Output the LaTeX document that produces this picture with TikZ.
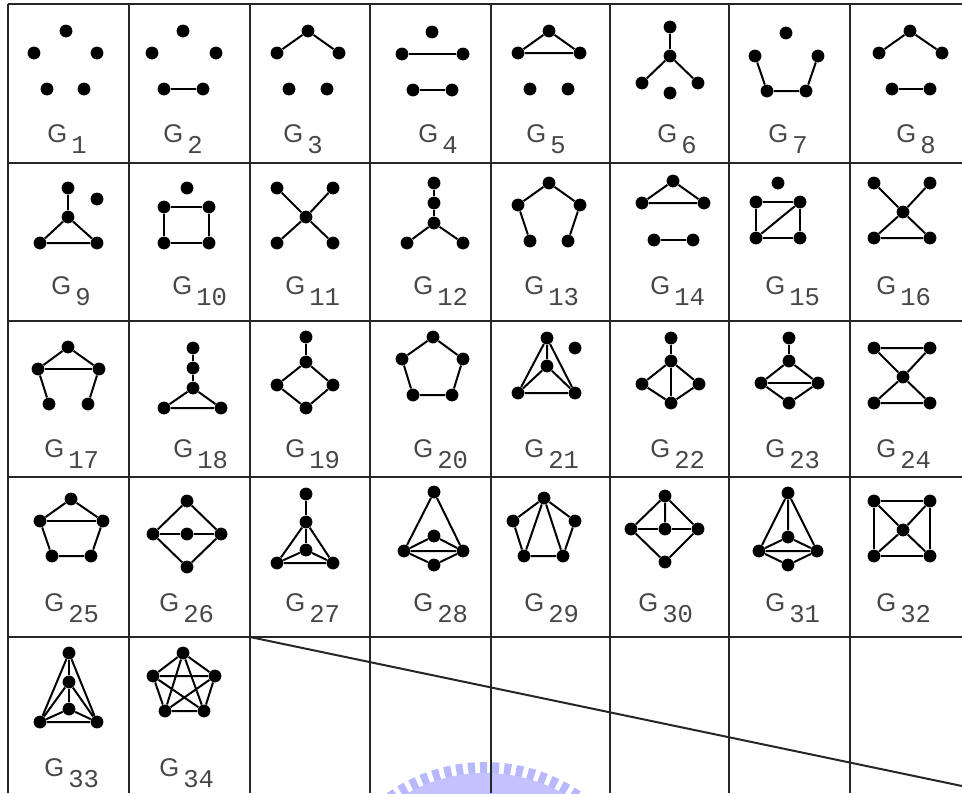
\documentclass[tikz,border=0pt]{standalone}
\usepackage{fontspec}
\usepackage{tikz}
\usetikzlibrary{calc}

\newfontfamily\glabelfont{Liberation Sans}
\newfontfamily\gindexfont{Liberation Mono}
\newcommand{\gname}[1]{{\glabelfont\fontsize{12.8}{14}\selectfont G}\hspace{2pt}\raisebox{-5.5pt}{\gindexfont\fontsize{12.8}{14}\selectfont #1}}

\tikzset{
  vtx/.style={circle, fill=black, inner sep=0pt, minimum size=6.4pt},
  gedge/.style={line width=1pt},
  cellline/.style={line width=1pt, black!85},
  glabel/.style={anchor=base west, inner sep=0pt, text=black!72}
}

\begin{document}
\begin{tikzpicture}[x=0.5pt, y=-0.5pt]
    \useasboundingbox (0,0) rectangle (962,793);

    % Watermark behind the table
    \begin{scope}
        \clip (0,0) rectangle (962,793);
        \draw[blue!28, line width=6pt, dash pattern=on 3.5pt off 2.5pt] (485,932) circle (164);
        \draw[blue!24, line width=14pt] (485,932) circle (145);
    \end{scope}

    % Table lines
    \foreach \y in {4,163,321,477,637} {
        \draw[cellline] (8,\y) -- (962,\y);
    }
    \foreach \x in {8,129,250,370,491,610,729,850} {
        \draw[cellline] (\x,4) -- (\x,793);
    }
    \coordinate (dstart) at (250,637);
    \coordinate (dend) at (962,786);
    \draw[cellline] (dstart) -- (dend);

    % Row 1
    % G_1
    \begin{scope}[shift={(8,4)}]
        \node[vtx] (a) at (58,27) {};
        \node[vtx] (b) at (26,49) {};
        \node[vtx] (c) at (89,49) {};
        \node[vtx] (d) at (39,85) {};
        \node[vtx] (e) at (76,85) {};
        \node[glabel] (lab1) at (39,138) {\gname{1}};
    \end{scope}
    % G_2
    \begin{scope}[shift={(129,4)}]
        \node[vtx] (a) at (54,27) {};
        \node[vtx] (b) at (23,49) {};
        \node[vtx] (c) at (87,49) {};
        \node[vtx] (d) at (35,85) {};
        \node[vtx] (e) at (74,85) {};
        \draw[gedge] (d) -- (e);
        \node[glabel] (lab2) at (34,138) {\gname{2}};
    \end{scope}
    % G_3
    \begin{scope}[shift={(250,4)}]
        \node[vtx] (a) at (58,27) {};
        \node[vtx] (b) at (27,49) {};
        \node[vtx] (c) at (89,49) {};
        \node[vtx] (d) at (39,85) {};
        \node[vtx] (e) at (77,85) {};
        \draw[gedge] (b) -- (a) -- (c);
        \node[glabel] (lab3) at (33,138) {\gname{3}};
    \end{scope}
    % G_4
    \begin{scope}[shift={(370,4)}]
        \node[vtx] (a) at (62,28) {};
        \node[vtx] (b) at (32,50) {};
        \node[vtx] (c) at (93,50) {};
        \node[vtx] (d) at (43,86) {};
        \node[vtx] (e) at (82,86) {};
        \draw[gedge] (b) -- (c);
        \draw[gedge] (d) -- (e);
        \node[glabel] (lab4) at (48,138) {\gname{4}};
    \end{scope}
    % G_5
    \begin{scope}[shift={(491,4)}]
        \node[vtx] (a) at (58,27) {};
        \node[vtx] (b) at (27,49) {};
        \node[vtx] (c) at (89,49) {};
        \node[vtx] (d) at (39,85) {};
        \node[vtx] (e) at (77,85) {};
        \draw[gedge] (a) -- (b) -- (c) -- (a);
        \node[glabel] (lab5) at (35,138) {\gname{5}};
    \end{scope}
    % G_6
    \begin{scope}[shift={(610,4)}]
        \node[vtx] (a) at (60,23) {};
        \node[vtx] (b) at (60,52) {};
        \node[vtx] (c) at (32,79) {};
        \node[vtx] (d) at (88,79) {};
        \node[vtx] (e) at (60,89) {};
        \draw[gedge] (b) -- (a);
        \draw[gedge] (c) -- (b) -- (d);
        \node[glabel] (lab6) at (47,138) {\gname{6}};
    \end{scope}
    % G_7
    \begin{scope}[shift={(729,4)}]
        \node[vtx] (a) at (57,29) {};
        \node[vtx] (b) at (26,52) {};
        \node[vtx] (c) at (89,52) {};
        \node[vtx] (d) at (38,87) {};
        \node[vtx] (e) at (77,87) {};
        \draw[gedge] (b) -- (d) -- (e) -- (c);
        \node[glabel] (lab7) at (39,138) {\gname{7}};
    \end{scope}
    % G_8
    \begin{scope}[shift={(850,4)}]
        \node[vtx] (a) at (60,27) {};
        \node[vtx] (b) at (29,49) {};
        \node[vtx] (c) at (92,49) {};
        \node[vtx] (d) at (42,85) {};
        \node[vtx] (e) at (80,85) {};
        \draw[gedge] (b) -- (a) -- (c);
        \draw[gedge] (d) -- (e);
        \node[glabel] (lab8) at (46,138) {\gname{8}};
    \end{scope}

    % Row 2
    % G_9
    \begin{scope}[shift={(8,163)}]
        \node[vtx] (a) at (60,25) {};
        \node[vtx] (b) at (89,36) {};
        \node[vtx] (c) at (60,54) {};
        \node[vtx] (d) at (32,80) {};
        \node[vtx] (e) at (89,80) {};
        \draw[gedge] (a) -- (c);
        \draw[gedge] (c) -- (d) -- (e) -- (c);
        \node[glabel] (lab9) at (43,131) {\gname{9}};
    \end{scope}
    % G_10
    \begin{scope}[shift={(129,163)}]
        \node[vtx] (a) at (58,25) {};
        \node[vtx] (b) at (35,44) {};
        \node[vtx] (c) at (80,44) {};
        \node[vtx] (d) at (35,80) {};
        \node[vtx] (e) at (80,80) {};
        \draw[gedge] (b) -- (c) -- (e) -- (d) -- (b);
        \node[glabel] (lab10) at (43,131) {\gname{10}};
    \end{scope}
    % G_11
    \begin{scope}[shift={(250,163)}]
        \node[vtx] (a) at (27,25) {};
        \node[vtx] (b) at (83,25) {};
        \node[vtx] (c) at (56,54) {};
        \node[vtx] (d) at (27,80) {};
        \node[vtx] (e) at (83,80) {};
        \draw[gedge] (a) -- (c) -- (e);
        \draw[gedge] (b) -- (c) -- (d);
        \node[glabel] (lab11) at (35,131) {\gname{11}};
    \end{scope}
    % G_12
    \begin{scope}[shift={(370,163)}]
        \node[vtx] (a) at (64,20) {};
        \node[vtx] (b) at (64,40) {};
        \node[vtx] (c) at (64,60) {};
        \node[vtx] (d) at (37,80) {};
        \node[vtx] (e) at (93,80) {};
        \draw[gedge] (a) -- (b) -- (c);
        \draw[gedge] (d) -- (c) -- (e);
        \node[glabel] (lab12) at (43,131) {\gname{12}};
    \end{scope}
    % G_13
    \begin{scope}[shift={(491,163)}]
        \node[vtx] (a) at (58,20) {};
        \node[vtx] (b) at (27,42) {};
        \node[vtx] (c) at (89,42) {};
        \node[vtx] (d) at (39,78) {};
        \node[vtx] (e) at (77,78) {};
        \draw[gedge] (d) -- (b) -- (a) -- (c) -- (e);
        \node[glabel] (lab13) at (33,131) {\gname{13}};
    \end{scope}
    % G_14
    \begin{scope}[shift={(610,163)}]
        \node[vtx] (a) at (63,18) {};
        \node[vtx] (b) at (32,40) {};
        \node[vtx] (c) at (94,40) {};
        \node[vtx] (d) at (44,77) {};
        \node[vtx] (e) at (83,77) {};
        \draw[gedge] (a) -- (b) -- (c) -- (a);
        \draw[gedge] (d) -- (e);
        \node[glabel] (lab14) at (40,131) {\gname{14}};
    \end{scope}
    % G_15
    \begin{scope}[shift={(729,163)}]
        \node[vtx] (a) at (49,20) {};
        \node[vtx] (b) at (27,39) {};
        \node[vtx] (c) at (71,39) {};
        \node[vtx] (d) at (27,75) {};
        \node[vtx] (e) at (71,75) {};
        \draw[gedge] (b) -- (c) -- (e) -- (d) -- (b);
        \draw[gedge] (d) -- (c);
        \node[glabel] (lab15) at (36,131) {\gname{15}};
    \end{scope}
    % G_16
    \begin{scope}[shift={(850,163)}]
        \node[vtx] (a) at (24,20) {};
        \node[vtx] (b) at (80,20) {};
        \node[vtx] (c) at (53,49) {};
        \node[vtx] (d) at (24,75) {};
        \node[vtx] (e) at (80,75) {};
        \draw[gedge] (a) -- (c) -- (e) -- (d) -- (c) -- (b);
        \node[glabel] (lab16) at (26,131) {\gname{16}};
    \end{scope}

    % Row 3
    % G_17
    \begin{scope}[shift={(8,321)}]
        \node[vtx] (a) at (60,26) {};
        \node[vtx] (b) at (30,48) {};
        \node[vtx] (c) at (91,48) {};
        \node[vtx] (d) at (41,83) {};
        \node[vtx] (e) at (80,83) {};
        \draw[gedge] (d) -- (b) -- (a) -- (c) -- (e);
        \draw[gedge] (b) -- (c);
        \node[glabel] (lab17) at (36,136) {\gname{17}};
    \end{scope}
    % G_18
    \begin{scope}[shift={(129,321)}]
        \node[vtx] (a) at (64,27) {};
        \node[vtx] (b) at (64,47) {};
        \node[vtx] (c) at (64,67) {};
        \node[vtx] (d) at (35,87) {};
        \node[vtx] (e) at (92,87) {};
        \draw[gedge] (a) -- (b) -- (c);
        \draw[gedge] (c) -- (d) -- (e) -- (c);
        \node[glabel] (lab18) at (44,136) {\gname{18}};
    \end{scope}
    % G_19
    \begin{scope}[shift={(250,321)}]
        \node[vtx] (a) at (56,16) {};
        \node[vtx] (b) at (56,41) {};
        \node[vtx] (c) at (27,64) {};
        \node[vtx] (d) at (83,64) {};
        \node[vtx] (e) at (56,87) {};
        \draw[gedge] (a) -- (b);
        \draw[gedge] (b) -- (c) -- (e) -- (d) -- (b);
        \node[glabel] (lab19) at (35,136) {\gname{19}};
    \end{scope}
    % G_20
    \begin{scope}[shift={(370,321)}]
        \node[vtx] (a) at (63,16) {};
        \node[vtx] (b) at (32,38) {};
        \node[vtx] (c) at (93,38) {};
        \node[vtx] (d) at (43,74) {};
        \node[vtx] (e) at (82,74) {};
        \draw[gedge] (a) -- (b) -- (d) -- (e) -- (c) -- (a);
        \node[glabel] (lab20) at (43,136) {\gname{20}};
    \end{scope}
    % G_21
    \begin{scope}[shift={(491,321)}]
        \node[vtx] (a) at (56,17) {};
        \node[vtx] (b) at (56,45) {};
        \node[vtx] (c) at (84,27) {};
        \node[vtx] (d) at (27,72) {};
        \node[vtx] (e) at (84,72) {};
        \draw[gedge] (a) -- (d) -- (e) -- (a) -- (b);
        \draw[gedge] (d) -- (b) -- (e);
        \node[glabel] (lab21) at (33,136) {\gname{21}};
    \end{scope}
    % G_22
    \begin{scope}[shift={(610,321)}]
        \node[vtx] (a) at (61,17) {};
        \node[vtx] (b) at (61,40) {};
        \node[vtx] (c) at (32,63) {};
        \node[vtx] (d) at (89,63) {};
        \node[vtx] (e) at (61,82) {};
        \draw[gedge] (a) -- (b) -- (e);
        \draw[gedge] (b) -- (c) -- (e) -- (d) -- (b);
        \node[glabel] (lab22) at (40,136) {\gname{22}};
    \end{scope}
    % G_23
    \begin{scope}[shift={(729,321)}]
        \node[vtx] (a) at (60,17) {};
        \node[vtx] (b) at (60,40) {};
        \node[vtx] (c) at (32,62) {};
        \node[vtx] (d) at (89,62) {};
        \node[vtx] (e) at (60,82) {};
        \draw[gedge] (a) -- (b);
        \draw[gedge] (b) -- (c) -- (e) -- (d) -- (b);
        \draw[gedge] (c) -- (d);
        \node[glabel] (lab23) at (36,136) {\gname{23}};
    \end{scope}
    % G_24
    \begin{scope}[shift={(850,321)}]
        \node[vtx] (a) at (24,27) {};
        \node[vtx] (b) at (80,27) {};
        \node[vtx] (c) at (53,56) {};
        \node[vtx] (d) at (24,82) {};
        \node[vtx] (e) at (80,82) {};
        \draw[gedge] (c) -- (a) -- (b) -- (c);
        \draw[gedge] (c) -- (d) -- (e) -- (c);
        \node[glabel] (lab24) at (26,136) {\gname{24}};
    \end{scope}

    % Row 4
    % G_25
    \begin{scope}[shift={(8,477)}]
        \node[vtx] (a) at (63,22) {};
        \node[vtx] (b) at (32,44) {};
        \node[vtx] (c) at (95,44) {};
        \node[vtx] (d) at (44,79) {};
        \node[vtx] (e) at (83,79) {};
        \draw[gedge] (a) -- (b) -- (d) -- (e) -- (c) -- (a);
        \draw[gedge] (b) -- (c);
        \node[glabel] (lab25) at (36,134) {\gname{25}};
    \end{scope}
    % G_26
    \begin{scope}[shift={(129,477)}]
        \node[vtx] (a) at (58,24) {};
        \node[vtx] (b) at (24,57) {};
        \node[vtx] (c) at (58,57) {};
        \node[vtx] (d) at (92,57) {};
        \node[vtx] (e) at (58,90) {};
        \draw[gedge] (a) -- (b) -- (e) -- (d) -- (a);
        \draw[gedge] (b) -- (c) -- (d);
        \node[glabel] (lab26) at (30,134) {\gname{26}};
    \end{scope}
    % G_27
    \begin{scope}[shift={(250,477)}]
        \node[vtx] (a) at (56,17) {};
        \node[vtx] (b) at (56,45) {};
        \node[vtx] (c) at (56,73) {};
        \node[vtx] (d) at (27,86) {};
        \node[vtx] (e) at (83,86) {};
        \draw[gedge] (a) -- (b) -- (c);
        \draw[gedge] (b) -- (d) -- (e) -- (b);
        \draw[gedge] (d) -- (c) -- (e);
        \node[glabel] (lab27) at (35,134) {\gname{27}};
    \end{scope}
    % G_28
    \begin{scope}[shift={(370,477)}]
        \node[vtx] (a) at (64,15) {};
        \node[vtx] (b) at (64,59) {};
        \node[vtx] (c) at (34,74) {};
        \node[vtx] (d) at (93,74) {};
        \node[vtx] (e) at (64,88) {};
        \draw[gedge] (a) -- (c) -- (e) -- (d) -- (a);
        \draw[gedge] (c) -- (b) -- (d) -- (c);
        \node[glabel] (lab28) at (43,134) {\gname{28}};
    \end{scope}
    % G_29
    \begin{scope}[shift={(491,477)}]
        \node[vtx] (a) at (53,21) {};
        \node[vtx] (b) at (22,44) {};
        \node[vtx] (c) at (84,44) {};
        \node[vtx] (d) at (33,79) {};
        \node[vtx] (e) at (72,79) {};
        \draw[gedge] (a) -- (b) -- (d) -- (e) -- (c) -- (a);
        \draw[gedge] (d) -- (a) -- (e);
        \node[glabel] (lab29) at (33,134) {\gname{29}};
    \end{scope}
    % G_30
    \begin{scope}[shift={(610,477)}]
        \node[vtx] (a) at (55,19) {};
        \node[vtx] (b) at (21,52) {};
        \node[vtx] (c) at (55,52) {};
        \node[vtx] (d) at (88,52) {};
        \node[vtx] (e) at (55,85) {};
        \draw[gedge] (a) -- (b) -- (e) -- (d) -- (a) -- (c);
        \draw[gedge] (b) -- (c) -- (d);
        \node[glabel] (lab30) at (28,134) {\gname{30}};
    \end{scope}
    % G_31
    \begin{scope}[shift={(729,477)}]
        \node[vtx] (a) at (59,16) {};
        \node[vtx] (b) at (59,60) {};
        \node[vtx] (c) at (30,74) {};
        \node[vtx] (d) at (88,74) {};
        \node[vtx] (e) at (59,88) {};
        \draw[gedge] (a) -- (c) -- (e) -- (d) -- (a) -- (b);
        \draw[gedge] (c) -- (b) -- (d) -- (c);
        \node[glabel] (lab31) at (36,134) {\gname{31}};
    \end{scope}
    % G_32
    \begin{scope}[shift={(850,477)}]
        \node[vtx] (a) at (24,24) {};
        \node[vtx] (b) at (80,24) {};
        \node[vtx] (c) at (53,53) {};
        \node[vtx] (d) at (24,79) {};
        \node[vtx] (e) at (80,79) {};
        \draw[gedge] (a) -- (b) -- (e) -- (d) -- (a);
        \draw[gedge] (a) -- (c) -- (e);
        \draw[gedge] (b) -- (c) -- (d);
        \node[glabel] (lab32) at (26,134) {\gname{32}};
    \end{scope}

    % Row 5
    % G_33
    \begin{scope}[shift={(8,637)}]
        \node[vtx] (a) at (61,16) {};
        \node[vtx] (b) at (61,45) {};
        \node[vtx] (c) at (61,72) {};
        \node[vtx] (d) at (32,85) {};
        \node[vtx] (e) at (89,85) {};
        \draw[gedge] (a) -- (b) -- (c);
        \draw[gedge] (a) -- (d) -- (e) -- (a);
        \draw[gedge] (d) -- (b) -- (e);
        \draw[gedge] (d) -- (c) -- (e);
        \node[glabel] (lab33) at (36,139) {\gname{33}};
    \end{scope}
    % G_34
    \begin{scope}[shift={(129,637)}]
        \node[vtx] (a) at (54,16) {};
        \node[vtx] (b) at (24,39) {};
        \node[vtx] (c) at (86,39) {};
        \node[vtx] (d) at (36,74) {};
        \node[vtx] (e) at (75,74) {};
        \draw[gedge] (a) -- (b) -- (d) -- (e) -- (c) -- (a);
        \draw[gedge] (a) -- (d) -- (c) -- (b) -- (e) -- (a);
        \node[glabel] (lab34) at (30,139) {\gname{34}};
    \end{scope}
\end{tikzpicture}
\end{document}
